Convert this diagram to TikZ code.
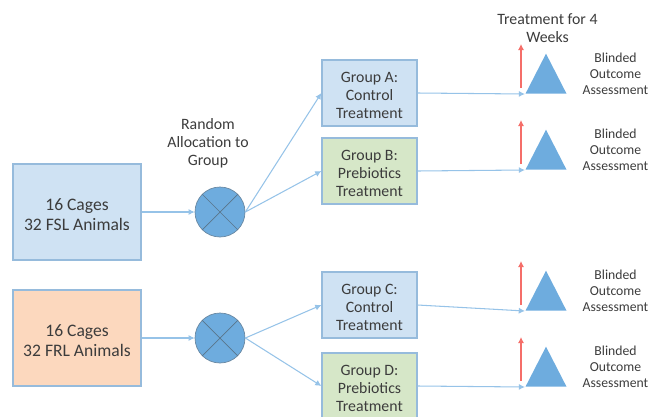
\documentclass[tikz,border=0pt]{standalone}
\usepackage{fontspec}
\setmainfont{Carlito}
\usetikzlibrary{arrows.meta,shapes.geometric}
\definecolor{boxblue}{RGB}{207,226,243}
\definecolor{boxorange}{RGB}{252,216,190}
\definecolor{boxgreen}{RGB}{214,231,200}
\definecolor{lineblue}{RGB}{150,195,232}
\definecolor{edgeblue}{RGB}{150,187,220}
\definecolor{shapeblue}{RGB}{110,172,222}
\definecolor{txtgrey}{RGB}{60,60,60}
\definecolor{arrowred}{RGB}{245,110,105}
\tikzset{
    cagebox/.style={draw=edgeblue, line width=0.7pt, minimum width=2.56cm, minimum height=1.92cm, align=center, text=txtgrey, font=\fontsize{10}{11.6}\selectfont, execute at begin node={\rule{0pt}{21.4pt}}},
    groupbox/.style={draw=edgeblue, line width=0.7pt, minimum width=1.9cm, minimum height=1.32cm, align=center, text=txtgrey, font=\fontsize{9}{10.3}\selectfont, execute at begin node={\rule{0pt}{29.5pt}}},
    alloc/.style={circle, draw=lineblue!70!black, fill=shapeblue, line width=0.4pt, minimum size=1cm, inner sep=0pt},
    outcome/.style={isosceles triangle, isosceles triangle stretches, shape border rotate=90, fill=shapeblue, minimum width=0.82cm, minimum height=0.8cm, inner sep=0pt, anchor=lower side},
    caption/.style={align=center, text=txtgrey, font=\fontsize{7.8}{9.1}\selectfont},
    toplabel/.style={align=center, text=txtgrey, font=\fontsize{9}{10.2}\selectfont},
    flow/.style={draw=lineblue, line width=0.6pt, -{Latex[length=3.5pt,width=3.5pt]}},
    weeks/.style={draw=arrowred, line width=0.6pt, -{Latex[length=3.5pt,width=3.5pt]}}
}
\begin{document}
\begin{tikzpicture}[x=0.02cm, y=-0.02cm]
    \useasboundingbox (0,0) rectangle (649,416);
    % Starting cages
    \node[cagebox, fill=boxblue] (fsl) at (77,212) {16 Cages\\32 FSL Animals};
    \node[cagebox, fill=boxorange] (frl) at (77,338) {16 Cages\\32 FRL Animals};
    % Allocation
    \node[alloc] (allocA) at (220,212) {};
    \node[alloc] (allocB) at (220,338) {};
    \foreach \c in {allocA,allocB} {
        \draw[lineblue!60!black, line width=0.4pt] (\c.45) -- (\c.225);
        \draw[lineblue!60!black, line width=0.4pt] (\c.135) -- (\c.315);
    }
    \node[toplabel] (alloclabel) at (208,143) {Random\\Allocation to\\Group};
    % Groups
    \node[groupbox, fill=boxblue] (groupA) at (369.5,93) {Group A:\\Control\\Treatment};
    \node[groupbox, fill=boxgreen] (groupB) at (369.5,171) {Group B:\\Prebiotics\\Treatment};
    \node[groupbox, fill=boxblue] (groupC) at (369.5,305) {Group C:\\Control\\Treatment};
    \node[groupbox, fill=boxgreen] (groupD) at (369.5,386) {Group D:\\Prebiotics\\Treatment};
    % Outcome triangles, red arrows and labels
    \foreach \g/\y in {A/74,B/150,C/291,D/367} {
        \node[outcome] (tri\g) at (546,\y+20) {};
        \coordinate (redbot\g) at (521,\y+14);
        \coordinate (redtop\g) at (521,\y-30);
        \draw[weeks] (redbot\g) -- (redtop\g);
        \node[caption] (blind\g) at (615.5,\y) {Blinded\\Outcome\\Assessment};
        \draw[flow] (group\g.east) -- (tri\g.left corner);
    }
    \node[toplabel] (weeklabel) at (547.5,28) {Treatment for 4\\Weeks};
    % Connectors
    \draw[flow] (fsl.east) -- (allocA.west);
    \draw[flow] (frl.east) -- (allocB.west);
    \draw[flow] (allocA.east) -- (groupA.west);
    \draw[flow] (allocA.east) -- (groupB.west);
    \draw[flow] (allocB.east) -- (groupC.west);
    \draw[flow] (allocB.east) -- (groupD.west);
\end{tikzpicture}
\end{document}
